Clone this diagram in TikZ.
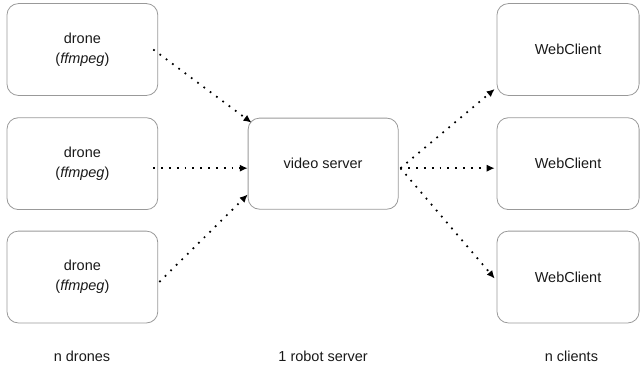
\documentclass[tikz,border=0pt]{standalone}
\usepackage{fontspec}
\setmainfont{Liberation Sans}
\usetikzlibrary{arrows.meta}
\tikzset{
  box/.style={draw=black!40, line width=0.6pt, rounded corners=0.3cm,
    minimum height=2.43cm, align=center, text=black!90,
    font=\fontsize{10.9}{15}\selectfont},
  dronebox/.style={box, minimum width=3.99cm},
  serverbox/.style={box, minimum width=3.97cm, minimum height=2.41cm},
  clientbox/.style={box, minimum width=3.76cm},
  flow/.style={line width=1.3pt, dash pattern=on 1.3pt off 4.6pt,
    -{Latex[length=6pt,width=5.5pt]}},
  caption/.style={text=black!90, font=\fontsize{10.9}{13}\selectfont}
}
\begin{document}
\begin{tikzpicture}
  \useasboundingbox (0,0) rectangle (16.96,-9.737);

  % Drones on the left
  \node[dronebox] (drone1) at (2.18,-1.31) {drone\\(\textit{ffmpeg})};
  \node[dronebox] (drone2) at (2.18,-4.33) {drone\\(\textit{ffmpeg})};
  \node[dronebox] (drone3) at (2.18,-7.33) {drone\\(\textit{ffmpeg})};

  % Server in the middle
  \node[serverbox] (server) at (8.55,-4.33) {video server};

  % Clients on the right
  \node[clientbox] (client1) at (15.03,-1.31) {WebClient};
  \node[clientbox] (client2) at (15.03,-4.33) {WebClient};
  \node[clientbox] (client3) at (15.03,-7.33) {WebClient};

  % Streams drone -> server
  \draw[flow] ([xshift=-0.13cm]drone1.east) -- ([shift={(0.1,-0.13)}]server.north west);
  \draw[flow] ([shift={(-0.13,-0.12)}]drone2.east) -- ([yshift=-0.12cm]server.west);
  \draw[flow] ([shift={(0.03,-0.13)}]drone3.east) -- ([yshift=0.4cm]server.south west);

  % Streams server -> clients
  \draw[flow] ([shift={(0.05,-0.12)}]server.east) -- ([shift={(-0.05,0.18)}]client1.south west);
  \draw[flow] ([shift={(0.05,-0.12)}]server.east) -- ([shift={(-0.05,-0.12)}]client2.west);
  \draw[flow] ([shift={(0.05,-0.12)}]server.east) -- ([shift={(-0.05,-0.04)}]client3.west);

  % Labels
  \node[caption] (lbldrones) at (2.17,-9.42) {n drones};
  \node[caption] (lblserver) at (8.55,-9.42) {1 robot server};
  \node[caption] (lblclients) at (15.12,-9.42) {n clients};
\end{tikzpicture}
\end{document}
